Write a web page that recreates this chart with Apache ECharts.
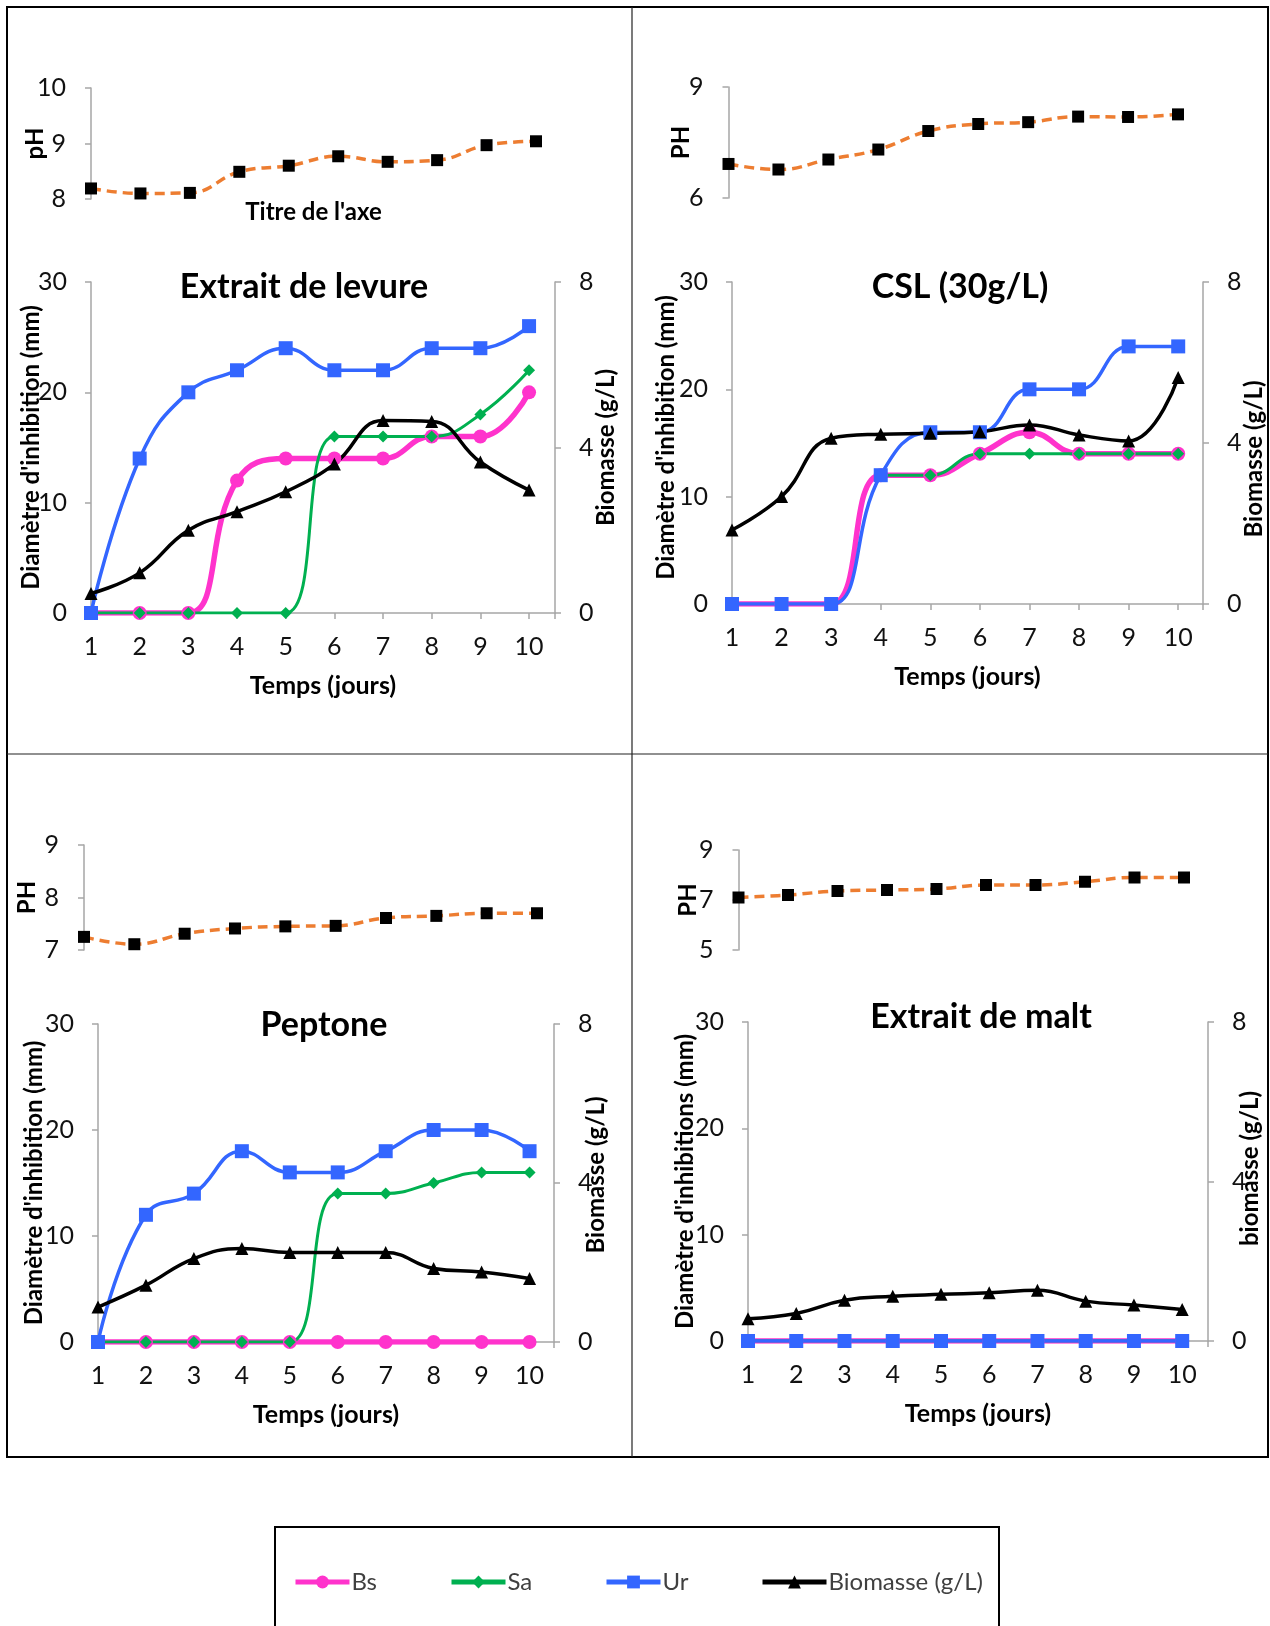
<!DOCTYPE html>
<html>
<head>
<meta charset="utf-8">
<script src="https://cdn.jsdelivr.net/npm/echarts@6/dist/echarts.min.js"></script>
<style>
  html, body { margin: 0; padding: 0; background: #fff; }
  #chart { width: 1270px; height: 1626px; }
</style>
</head>
<body>
<div id="chart"></div>
<script>
// Sampling days
const days = [1, 2, 3, 4, 5, 6, 7, 8, 9, 10];

// Extrait de levure
const phLevure  = [8.19, 8.10, 8.11, 8.49, 8.60, 8.77, 8.67, 8.70, 8.97, 9.04];
const bsLevure  = [0, 0, 0, 12, 14, 14, 14, 16, 16, 20];
const saLevure  = [0, 0, 0, 0, 0, 16, 16, 16, 18, 22];
const urLevure  = [0, 14, 20, 22, 24, 22, 22, 24, 24, 26];
const bioLevure = [0.47, 0.97, 2.00, 2.45, 2.93, 3.60, 4.65, 4.63, 3.65, 2.97];

// CSL (30 g/L) — Sa has no reading before day 4
const phCsl  = [6.92, 6.77, 7.04, 7.31, 7.81, 8.00, 8.05, 8.20, 8.19, 8.26];
const bsCsl  = [0, 0, 0, 12, 12, 14, 16, 14, 14, 14];
const saCsl  = [null, null, null, 12, 12, 14, 14, 14, 14, 14];
const urCsl  = [0, 0, 0, 12, 16, 16, 20, 20, 24, 24];
const bioCsl = [1.84, 2.67, 4.12, 4.22, 4.24, 4.28, 4.45, 4.20, 4.05, 5.63];

// Peptone
const phPeptone  = [7.25, 7.11, 7.31, 7.41, 7.45, 7.46, 7.61, 7.65, 7.70, 7.70];
const bsPeptone  = [0, 0, 0, 0, 0, 0, 0, 0, 0, 0];
const saPeptone  = [0, 0, 0, 0, 0, 14, 14, 15, 16, 16];
const urPeptone  = [0, 12, 14, 18, 16, 16, 18, 20, 20, 18];
const bioPeptone = [0.88, 1.43, 2.10, 2.35, 2.25, 2.25, 2.25, 1.85, 1.76, 1.60];

// Extrait de malt
const phMalt  = [7.10, 7.20, 7.36, 7.40, 7.44, 7.60, 7.60, 7.73, 7.90, 7.90];
const bsMalt  = [0, 0, 0, 0, 0, 0, 0, 0, 0, 0];
const saMalt  = [0, 0, 0, 0, 0, 0, 0, 0, 0, 0];
const urMalt  = [0, 0, 0, 0, 0, 0, 0, 0, 0, 0];
const bioMalt = [0.56, 0.69, 1.02, 1.12, 1.17, 1.21, 1.27, 1.00, 0.90, 0.79];

// Series names (legend)
const seriesNames = ['Bs', 'Sa', 'Ur', 'Biomasse (g/L)'];

// Panel content
const panels = [
  { title: 'Extrait de levure', ph: phLevure, bs: bsLevure, sa: saLevure, ur: urLevure, bio: bioLevure,
    phName: 'pH', phMin: 8, phMax: 10, phStep: 1, phXName: "Titre de l'axe",
    leftName: "Diamètre d'inhibition (mm)", rightName: 'Biomasse (g/L)' },
  { title: 'CSL (30g/L)', ph: phCsl, bs: bsCsl, sa: saCsl, ur: urCsl, bio: bioCsl,
    phName: 'PH', phMin: 6, phMax: 9, phStep: 3, phXName: '',
    leftName: "Diamètre d'inhibition (mm)", rightName: 'Biomasse (g/L)' },
  { title: 'Peptone', ph: phPeptone, bs: bsPeptone, sa: saPeptone, ur: urPeptone, bio: bioPeptone,
    phName: 'PH', phMin: 7, phMax: 9, phStep: 1, phXName: '',
    leftName: "Diamètre d'inhibition (mm)", rightName: 'Biomasse (g/L)' },
  { title: 'Extrait de malt', ph: phMalt, bs: bsMalt, sa: saMalt, ur: urMalt, bio: bioMalt,
    phName: 'PH', phMin: 5, phMax: 9, phStep: 2, phXName: '',
    leftName: "Diamètre d'inhibitions (mm)", rightName: 'biomasse (g/L)' }
];

// Panel geometry; name paddings slide a rotated axis name along its axis
const layout = [
  { phGrid: { left: 91, top: 88, width: 445, height: 111 }, phNameGap: 44,
    main: { left: 91, top: 282, width: 464, height: 331 }, xMax: 10.533,
    leftGap: 48, rightGap: 39, leftPad: [0, 0, 0, 0], rightPad: [0, 0, 0, 0], title: [304, 287] },
  { phGrid: { left: 728.5, top: 87, width: 449.5, height: 111 }, phNameGap: 35,
    main: { left: 732, top: 282, width: 471, height: 322 }, xMax: 10.50,
    leftGap: 54, rightGap: 39, leftPad: [0, 0, 0, 11], rightPad: [0, 32, 0, 0], title: [960, 287] },
  { phGrid: { left: 84, top: 845, width: 453, height: 105 }, phNameGap: 45,
    main: { left: 98, top: 1024, width: 456, height: 318 }, xMax: 10.51,
    leftGap: 52, rightGap: 30, leftPad: [0, 0, 0, 0], rightPad: [0, 0, 0, 16], title: [324, 1025] },
  { phGrid: { left: 738.5, top: 850, width: 445.5, height: 100 }, phNameGap: 38,
    main: { left: 748, top: 1022, width: 460, height: 319 }, xMax: 10.535,
    leftGap: 51, rightGap: 30, leftPad: [0, 0, 0, 0], rightPad: [0, 0, 0, 26], title: [981, 1017] }
];

const FONT = 'Lato';
const AXIS_GRAY = '#a6a6a6';
const colors = { bs: '#ff33cc', sa: '#00b050', ur: '#3366ff', bio: '#000000', ph: '#ed7d31' };

const pairs = vals => days.map((d, i) => [d, vals[i]]);

const grid = [], xAxis = [], yAxis = [], series = [], graphic = [];

const tickLabel = { fontFamily: FONT, fontSize: 25, color: '#111' };
const nameStyle = { fontFamily: FONT, fontSize: 24, fontWeight: 'bold', color: '#000' };
const withPad = pad => Object.assign({}, nameStyle, { padding: pad });

panels.forEach((p, i) => {
  const L = layout[i];
  grid.push(Object.assign({ outerBoundsMode: 'none', containLabel: false }, L.phGrid));
  grid.push(Object.assign({ outerBoundsMode: 'none', containLabel: false }, L.main));

  // pH strip: x axis only carries the name
  xAxis.push({
    type: 'value', gridIndex: 2 * i, min: 1, max: 10,
    axisLine: { show: false }, axisTick: { show: false }, axisLabel: { show: false },
    splitLine: { show: false },
    name: p.phXName, nameLocation: 'middle', nameGap: 1, nameMoveOverlap: false,
    nameTextStyle: nameStyle
  });
  // main x axis (days)
  xAxis.push({
    type: 'value', gridIndex: 2 * i + 1, min: 1, max: L.xMax, interval: 1,
    axisLine: { lineStyle: { color: AXIS_GRAY, width: 1.5 } },
    axisTick: { lineStyle: { color: AXIS_GRAY, width: 1.5 }, length: 6 },
    axisLabel: Object.assign({ margin: 21,
      formatter: v => (Math.abs(v - Math.round(v)) < 1e-6 && v <= 10) ? String(Math.round(v)) : '' }, tickLabel),
    splitLine: { show: false },
    name: 'Temps (jours)', nameLocation: 'middle', nameGap: 60, nameMoveOverlap: false,
    nameTextStyle: Object.assign({}, nameStyle, { fontSize: 25 })
  });

  // pH y axis
  yAxis.push({
    type: 'value', gridIndex: 2 * i, min: p.phMin, max: p.phMax, interval: p.phStep,
    axisLine: { show: true, lineStyle: { color: AXIS_GRAY, width: 1.5 } },
    axisTick: { show: true, length: 6, lineStyle: { color: AXIS_GRAY, width: 1.5 } },
    axisLabel: Object.assign({ margin: 25 }, tickLabel),
    splitLine: { show: false },
    name: p.phName, nameLocation: 'middle', nameRotate: 90, nameGap: L.phNameGap,
    nameMoveOverlap: false, nameTextStyle: nameStyle
  });
  // left: inhibition diameter
  yAxis.push({
    type: 'value', gridIndex: 2 * i + 1, position: 'left', min: 0, max: 30, interval: 10,
    axisLine: { show: true, lineStyle: { color: AXIS_GRAY, width: 1.5 } },
    axisTick: { show: true, length: 6, lineStyle: { color: AXIS_GRAY, width: 1.5 } },
    axisLabel: Object.assign({ margin: 24 }, tickLabel),
    splitLine: { show: false },
    name: p.leftName, nameLocation: 'middle', nameRotate: 90, nameGap: L.leftGap,
    nameMoveOverlap: false, nameTextStyle: withPad(L.leftPad)
  });
  // right: biomass
  yAxis.push({
    type: 'value', gridIndex: 2 * i + 1, position: 'right', min: 0, max: 8, interval: 4,
    axisLine: { show: true, lineStyle: { color: AXIS_GRAY, width: 1.5 } },
    axisTick: { show: true, length: 6, lineStyle: { color: AXIS_GRAY, width: 1.5 } },
    axisLabel: Object.assign({ margin: 24 }, tickLabel),
    splitLine: { show: false },
    name: p.rightName, nameLocation: 'middle', nameRotate: 90, nameGap: L.rightGap,
    nameMoveOverlap: false, nameTextStyle: withPad(L.rightPad)
  });

  const xi = 2 * i + 1;
  series.push({
    name: 'pH', type: 'line', xAxisIndex: 2 * i, yAxisIndex: 3 * i, data: pairs(p.ph),
    smooth: 0.45, symbol: 'rect', symbolSize: 12,
    lineStyle: { color: colors.ph, width: 3.5, type: [10, 6] },
    itemStyle: { color: '#000' }
  });
  series.push({
    name: 'Bs', type: 'line', xAxisIndex: xi, yAxisIndex: 3 * i + 1, data: pairs(p.bs),
    smooth: 0.45, symbol: 'circle', symbolSize: 14,
    lineStyle: { color: colors.bs, width: 5.5 }, itemStyle: { color: colors.bs }
  });
  series.push({
    name: 'Sa', type: 'line', xAxisIndex: xi, yAxisIndex: 3 * i + 1, data: pairs(p.sa),
    smooth: 0.45, symbol: 'diamond', symbolSize: 12,
    lineStyle: { color: colors.sa, width: 3 }, itemStyle: { color: colors.sa }
  });
  series.push({
    name: 'Ur', type: 'line', xAxisIndex: xi, yAxisIndex: 3 * i + 1, data: pairs(p.ur),
    smooth: 0.45, symbol: 'rect', symbolSize: 14,
    lineStyle: { color: colors.ur, width: 3.5 }, itemStyle: { color: colors.ur }
  });
  series.push({
    name: 'Biomasse (g/L)', type: 'line', xAxisIndex: xi, yAxisIndex: 3 * i + 2, data: pairs(p.bio),
    smooth: 0.45, symbol: 'triangle', symbolSize: 13,
    lineStyle: { color: colors.bio, width: 3.5 }, itemStyle: { color: colors.bio }
  });

  graphic.push({
    type: 'text', x: L.title[0], y: L.title[1], z: 10,
    style: { text: p.title, font: 'bold 34px ' + FONT, fill: '#000',
             textAlign: 'center', textVerticalAlign: 'middle' }
  });
});

// Frame, dividers and legend box
graphic.push(
  { type: 'rect', shape: { x: 7, y: 7, width: 1261, height: 1450 },
    style: { fill: 'none', stroke: '#000', lineWidth: 2 } },
  { type: 'line', shape: { x1: 632, y1: 7, x2: 632, y2: 1457 },
    style: { stroke: '#222', lineWidth: 1.2 } },
  { type: 'line', shape: { x1: 7, y1: 754, x2: 1268, y2: 754 },
    style: { stroke: '#222', lineWidth: 1.2 } },
  { type: 'rect', shape: { x: 275, y: 1527, width: 724, height: 140 },
    style: { fill: 'none', stroke: '#000', lineWidth: 2 } }
);

// One legend entry per series, spaced along the box
const legendLeft = [288, 444, 599, 755];
const legendWidth = [54, 54, 54, 64];
const legend = seriesNames.map((n, k) => ({
  data: [n], left: legendLeft[k], top: 1565, itemWidth: legendWidth[k], itemHeight: 16,
  itemGap: 0, selectedMode: false,
  lineStyle: { width: 5 },
  textStyle: { fontFamily: FONT, fontSize: 24, color: '#404040', padding: [0, 0, 0, -3] }
}));

const chart = echarts.init(document.getElementById('chart'), null, { renderer: 'canvas' });
chart.setOption({
  animation: false,
  backgroundColor: '#fff',
  grid, xAxis, yAxis, series, legend, graphic
});
</script>
</body>
</html>
